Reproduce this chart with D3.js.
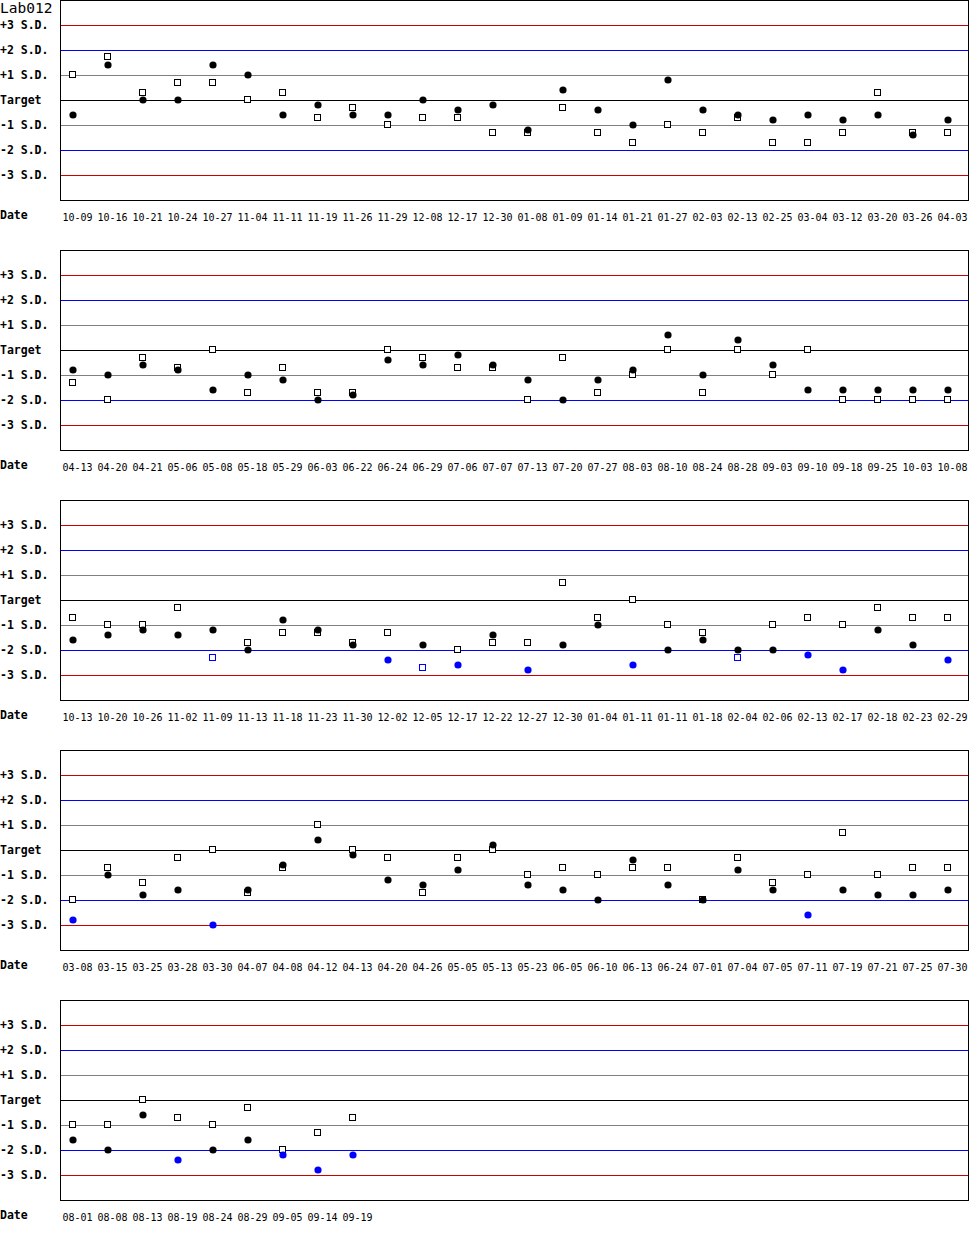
<!DOCTYPE html>
<html>
<head>
<meta charset="utf-8">
<script src="https://cdn.jsdelivr.net/npm/d3@7"></script>
<style>
  body { margin: 0; background: #fff; }
  svg { display: block; }
</style>
</head>
<body>
<svg id="chart"></svg>
<script>
// chart values, in S.D. units
const title = "Lab012";
const levelLabels = ["+3 S.D.", "+2 S.D.", "+1 S.D.", "Target", "-1 S.D.", "-2 S.D.", "-3 S.D."];
const levels = [3, 2, 1, 0, -1, -2, -3];

const dates1 = ["10-09","10-16","10-21","10-24","10-27","11-04","11-11","11-19","11-26","11-29","12-08","12-17","12-30","01-08","01-09","01-14","01-21","01-27","02-03","02-13","02-25","03-04","03-12","03-20","03-26","04-03"];
const circles1 = [-0.6, 1.4, 0, 0, 1.4, 1.0, -0.6, -0.2, -0.6, -0.6, 0, -0.4, -0.2, -1.2, 0.4, -0.4, -1.0, 0.8, -0.4, -0.6, -0.8, -0.6, -0.8, -0.6, -1.4, -0.8];
const squares1 = [1.0, 1.7, 0.3, 0.7, 0.7, 0, 0.3, -0.7, -0.3, -1.0, -0.7, -0.7, -1.3, -1.3, -0.3, -1.3, -1.7, -1.0, -1.3, -0.7, -1.7, -1.7, -1.3, 0.3, -1.3, -1.3];

const dates2 = ["04-13","04-20","04-21","05-06","05-08","05-18","05-29","06-03","06-22","06-24","06-29","07-06","07-07","07-13","07-20","07-27","08-03","08-10","08-24","08-28","09-03","09-10","09-18","09-25","10-03","10-08"];
const circles2 = [-0.8, -1.0, -0.6, -0.8, -1.6, -1.0, -1.2, -2.0, -1.8, -0.4, -0.6, -0.2, -0.6, -1.2, -2.0, -1.2, -0.8, 0.6, -1.0, 0.4, -0.6, -1.6, -1.6, -1.6, -1.6, -1.6];
const squares2 = [-1.3, -2.0, -0.3, -0.7, 0, -1.7, -0.7, -1.7, -1.7, 0, -0.3, -0.7, -0.7, -2.0, -0.3, -1.7, -1.0, 0, -1.7, 0, -1.0, 0, -2.0, -2.0, -2.0, -2.0];

const dates3 = ["10-13","10-20","10-26","11-02","11-09","11-13","11-18","11-23","11-30","12-02","12-05","12-17","12-22","12-27","12-30","01-04","01-11","01-11","01-18","02-04","02-06","02-13","02-17","02-18","02-23","02-29"];
const circles3 = [-1.6, -1.4, -1.2, -1.4, -1.2, -2.0, -0.8, -1.2, -1.8, -2.4, -1.8, -2.6, -1.4, -2.8, -1.8, -1.0, -2.6, -2.0, -1.6, -2.0, -2.0, -2.2, -2.8, -1.2, -1.8, -2.4];
const squares3 = [-0.7, -1.0, -1.0, -0.3, -2.3, -1.7, -1.3, -1.3, -1.7, -1.3, -2.7, -2.0, -1.7, -1.7, 0.7, -0.7, 0, -1.0, -1.3, -2.3, -1.0, -0.7, -1.0, -0.3, -0.7, -0.7];

const dates4 = ["03-08","03-15","03-25","03-28","03-30","04-07","04-08","04-12","04-13","04-20","04-26","05-05","05-13","05-23","06-05","06-10","06-13","06-24","07-01","07-04","07-05","07-11","07-19","07-21","07-25","07-30"];
const circles4 = [-2.8, -1.0, -1.8, -1.6, -3.0, -1.6, -0.6, 0.4, -0.2, -1.2, -1.4, -0.8, 0.2, -1.4, -1.6, -2.0, -0.4, -1.4, -2.0, -0.8, -1.6, -2.6, -1.6, -1.8, -1.8, -1.6];
const squares4 = [-2.0, -0.7, -1.3, -0.3, 0, -1.7, -0.7, 1.0, 0, -0.3, -1.7, -0.3, 0, -1.0, -0.7, -1.0, -0.7, -0.7, -2.0, -0.3, -1.3, -1.0, 0.7, -1.0, -0.7, -0.7];

const dates5 = ["08-01","08-08","08-13","08-19","08-24","08-29","09-05","09-14","09-19"];
const circles5 = [-1.6, -2.0, -0.6, -2.4, -2.0, -1.6, -2.2, -2.8, -2.2];
const squares5 = [-1.0, -1.0, 0, -0.7, -1.0, -0.3, -2.0, -1.3, -0.7];

const panels = [
  [dates1, circles1, squares1],
  [dates2, circles2, squares2],
  [dates3, circles3, squares3],
  [dates4, circles4, squares4],
  [dates5, circles5, squares5]
];

const width = 970, height = 1250;
const panelH = 250;
const plotL = 60, plotR = 968, plotH = 200;
const mono = "'DejaVu Sans Mono', 'Liberation Mono', monospace";

const lineColor = l => Math.abs(l) === 3 ? "#cc0000" : Math.abs(l) === 2 ? "#0000ff" : Math.abs(l) === 1 ? "#808080" : "#000";
const markColor = v => Math.abs(v) > 3 ? "#cc0000" : Math.abs(v) > 2 ? "#0000ff" : "#000";

const svg = d3.select("#chart")
  .attr("width", width)
  .attr("height", height)
  .style("background", "#fff");

const y = d3.scaleLinear().domain([4, -4]).range([0, plotH]);
// one column every 35px, first point at 72.5
const x = d3.scaleLinear().domain([0, 1]).range([72.5, 107.5]);

panels.forEach(([dates, circles, squares], p) => {
  const g = svg.append("g").attr("transform", `translate(0,${p * panelH})`);

  // level lines
  g.append("g")
    .selectAll("line")
    .data(levels)
    .join("line")
      .attr("x1", plotL).attr("x2", plotR)
      .attr("y1", d => y(d) + 0.5).attr("y2", d => y(d) + 0.5)
      .attr("stroke", lineColor)
      .attr("stroke-width", 1)
      .attr("shape-rendering", "crispEdges");

  // plot box
  g.append("rect")
    .attr("x", plotL + 0.5).attr("y", y(4) + 0.5)
    .attr("width", plotR - plotL).attr("height", plotH)
    .attr("fill", "none")
    .attr("stroke", "#000")
    .attr("shape-rendering", "crispEdges");

  // level labels
  g.append("g")
    .selectAll("text")
    .data(levels)
    .join("text")
      .attr("x", 0)
      .attr("y", d => y(d) + 3.5)
      .attr("font-family", mono)
      .attr("font-weight", "bold")
      .attr("font-size", 11.5)
      .text((d, i) => levelLabels[i]);

  g.append("text")
    .attr("x", 0).attr("y", 219)
    .attr("font-family", mono)
    .attr("font-weight", "bold")
    .attr("font-size", 11.5)
    .text("Date");

  // date axis
  const axis = g.append("g")
    .attr("transform", "translate(0,221)")
    .call(d3.axisBottom(x)
      .tickValues(d3.range(dates.length))
      .tickFormat(i => dates[i])
      .tickSize(0));
  axis.select(".domain").remove();
  axis.selectAll("text")
    .attr("y", 0).attr("dy", null)
    .attr("x", -10.5)
    .attr("text-anchor", "start")
    .attr("font-family", mono)
    .attr("font-size", 10)
    .attr("fill", "#000");

  // open squares
  g.append("g")
    .selectAll("rect")
    .data(squares)
    .join("rect")
      .attr("x", (d, i) => Math.round(x(i)) - 3.5)
      .attr("y", d => Math.round(y(d)) - 3.5)
      .attr("width", 6).attr("height", 6)
      .attr("fill", "#fff")
      .attr("stroke", markColor)
      .attr("shape-rendering", "crispEdges");

  // filled circles
  g.append("g")
    .selectAll("circle")
    .data(circles)
    .join("circle")
      .attr("cx", (d, i) => Math.round(x(i)))
      .attr("cy", d => Math.round(y(d)))
      .attr("r", 3.6)
      .attr("fill", markColor);
});

svg.append("text")
  .attr("x", 0).attr("y", 13)
  .attr("font-family", mono)
  .attr("font-size", 14.5)
  .text(title);
</script>
</body>
</html>
